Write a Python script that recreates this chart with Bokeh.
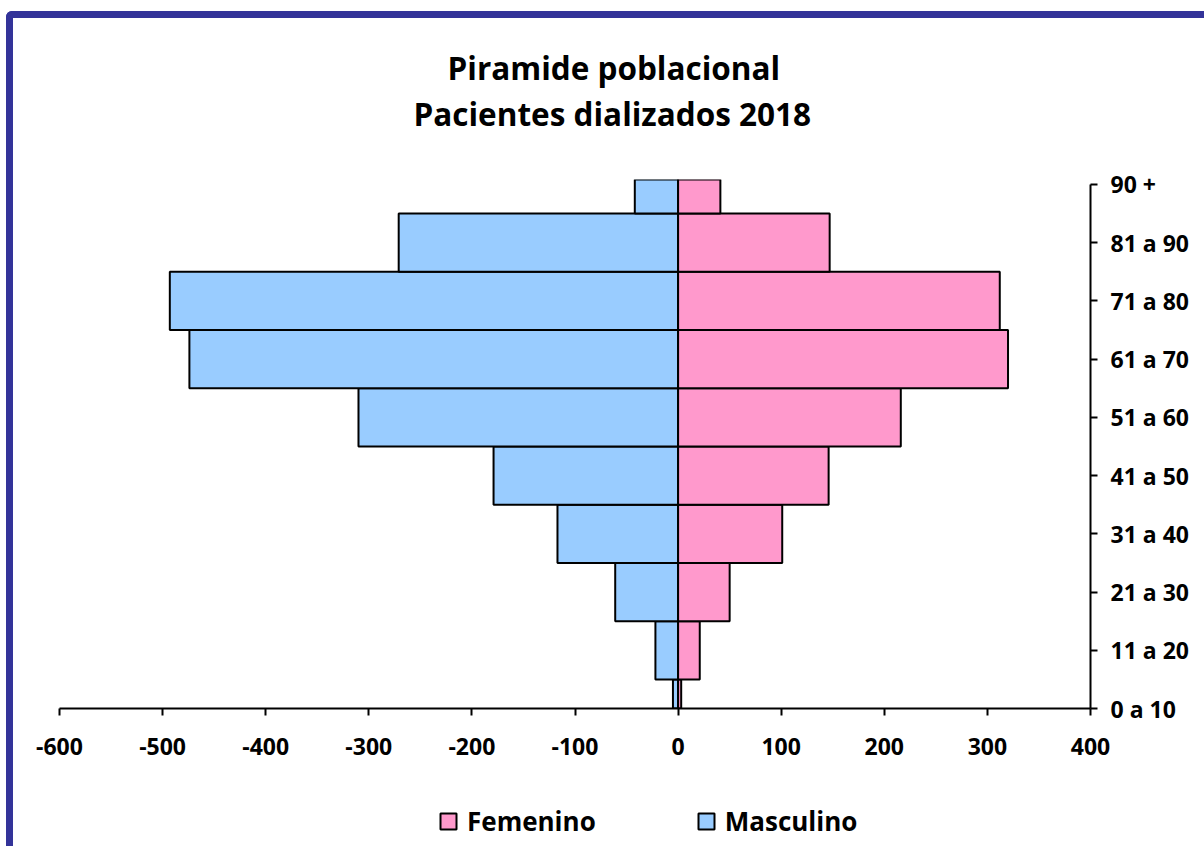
from bokeh.plotting import figure
from bokeh.layouts import column
from bokeh.models import Range1d, FixedTicker, Title, Legend, LegendItem, ColumnDataSource
from bokeh.embed import file_html
from bokeh.resources import INLINE

# ---- data ----
age_groups = ["0 a 10", "11 a 20", "21 a 30", "31 a 40", "41 a 50",
              "51 a 60", "61 a 70", "71 a 80", "81 a 90", "90 +"]
masculino = [-5, -22, -61, -117, -179, -310, -474, -493, -271, -42]
femenino = [3, 21, 50, 101, 146, 216, 320, 312, 147, 41]
x_ticks = [-600, -500, -400, -300, -200, -100, 0, 100, 200, 300, 400]
title_lines = ["Piramide poblacional", "Pacientes dializados 2018"]
series_names = ["Femenino", "Masculino"]

pos = list(range(len(age_groups)))
zeros = [0] * len(age_groups)
src = ColumnDataSource(dict(y=pos, m=masculino, f=femenino, z=zeros))

FONT = "Open Sans"
BLUE, PINK = "#99CCFF", "#FF99CC"

p = figure(frame_width=1031, frame_height=529,
           min_border_left=46, min_border_right=114,
           min_border_top=161, min_border_bottom=62,
           x_range=Range1d(-600, 400), y_range=Range1d(0, 9.084),
           y_axis_location="right",
           output_backend="svg", toolbar_location=None)
p.outline_line_color = None
p.xgrid.visible = False
p.ygrid.visible = False

rm = p.hbar(y="y", left="m", right="z", height=1, source=src,
            fill_color=BLUE, line_color="black", line_width=2)
rf = p.hbar(y="y", left="z", right="f", height=1, source=src,
            fill_color=PINK, line_color="black", line_width=2)

# x axis
xa = p.xaxis[0]
xa.ticker = FixedTicker(ticks=x_ticks)
xa.major_label_overrides = {t: str(t) for t in x_ticks}
xa.axis_line_width = 2
xa.major_tick_line_width = 2
xa.major_tick_out = 7
xa.major_tick_in = 0
xa.minor_tick_line_color = None
xa.major_label_text_font = FONT
xa.major_label_text_font_style = "bold"
xa.major_label_text_font_size = "23px"
xa.major_label_text_color = "black"
xa.major_label_standoff = 22

# y axis (right)
ya = p.yaxis[0]
ya.ticker = FixedTicker(ticks=pos)
ya.major_label_overrides = {i: lab for i, lab in zip(pos, age_groups)}
ya.bounds = (0, 9)
ya.axis_line_width = 2
ya.major_tick_line_width = 2
ya.major_tick_out = 7
ya.major_tick_in = 0
ya.minor_tick_line_color = None
ya.major_label_text_font = FONT
ya.major_label_text_font_style = "bold"
ya.major_label_text_font_size = "23px"
ya.major_label_text_color = "black"
ya.major_label_standoff = 13

# title: p.title is outermost; extra 'above' panels stack outward from the frame
p.title.text = title_lines[0]
p.title.align = "left"
p.title.offset = 388
p.title.standoff = 2
p.title.text_font = FONT
p.title.text_font_style = "bold"
p.title.text_font_size = "31.5px"
p.title.text_color = "black"
p.add_layout(Title(text=" ", standoff=42, text_font_size="1px"), "above")
p.add_layout(Title(text=title_lines[1], align="left", offset=354, standoff=0,
                   text_font=FONT, text_font_style="bold",
                   text_font_size="31.5px", text_color="black"), "above")

# legend strip below the chart
lg = figure(width=1191, height=76, x_range=Range1d(0, 1), y_range=Range1d(0, 1),
            x_axis_type=None, y_axis_type=None, min_border=0,
            output_backend="svg", toolbar_location=None)
lg.outline_line_color = None
lg.xgrid.visible = False
lg.ygrid.visible = False
nan = float("nan")
keysrc = ColumnDataSource(dict(y=[nan], l=[nan], r=[nan]))
key_f = lg.hbar(y="y", left="l", right="r", height=1, source=keysrc,
                fill_color=PINK, line_color="black", line_width=2)
key_m = lg.hbar(y="y", left="l", right="r", height=1, source=keysrc,
                fill_color=BLUE, line_color="black", line_width=2)
legend = Legend(items=[LegendItem(label=series_names[0], renderers=[key_f]),
                       LegendItem(label=series_names[1], renderers=[key_m])],
                orientation="horizontal", location=(379, 7),
                glyph_width=20, glyph_height=20, label_standoff=9,
                spacing=100, padding=0, margin=0,
                border_line_color=None, background_fill_alpha=0,
                label_text_font=FONT, label_text_font_style="bold",
                label_text_font_size="26px", label_text_color="black")
lg.add_layout(legend, "center")

layout = column(p, lg, spacing=0,
                styles={"margin-left": "6px", "margin-top": "11px",
                        "border-left": "7px solid #333399",
                        "border-top": "7px solid #333399",
                        "border-top-left-radius": "6px"})

open("out.html", "w").write(file_html(layout, INLINE))
